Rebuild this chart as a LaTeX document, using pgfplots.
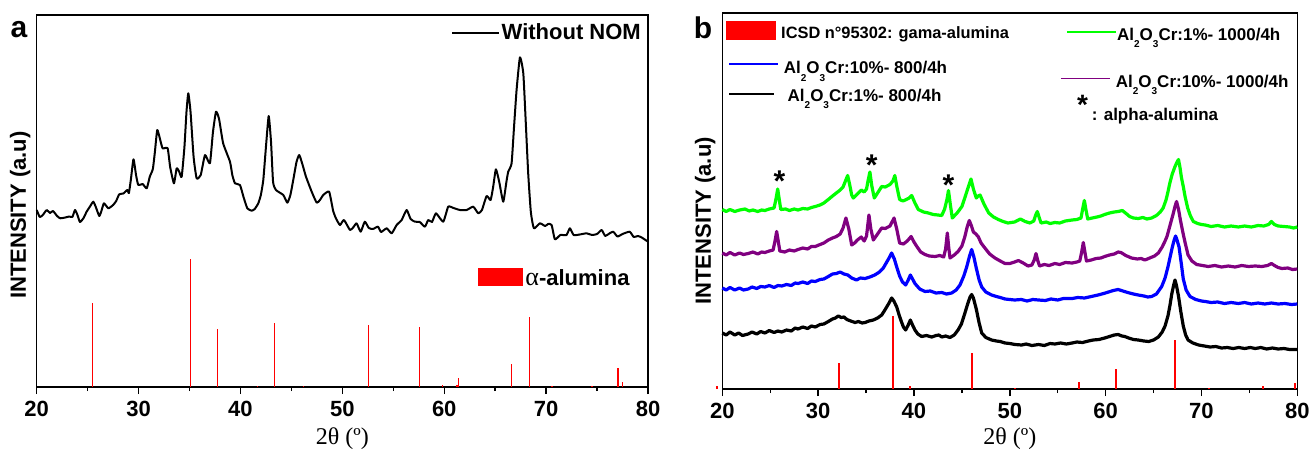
\documentclass[border=0pt]{standalone}
\usepackage{fontspec}
\setmainfont{Liberation Sans}
\newfontfamily\serif{Liberation Serif}
\usepackage{pgfplots}
\pgfplotsset{compat=1.18}
\definecolor{cgreen}{HTML}{00FF00}
\definecolor{cpurple}{HTML}{800080}
\newcommand\sub[1]{\raisebox{-3.6pt}{\fontsize{5}{5}\selectfont #1}}
\newcommand\alo{Al\sub{2}O\sub{3}}

\pgfplotsset{xrd/.style={
  scale only axis, anchor=south west, clip=false,
  xmin=20, xmax=80, ymin=0,
  xtick={20,30,...,80}, minor x tick num=1, ytick=\empty,
  xtick pos=left, tick align=outside,
  major tick length=3.5pt, minor tick length=2pt,
  every tick/.style={black, line width=0.7pt},
  axis line style={line width=0.6pt},
  ticklabel style={font=\fontsize{11}{12}\selectfont\bfseries},
  /pgf/number format/assume math mode=true,
  xlabel={\serif 2θ (º)},
  xlabel style={font=\fontsize{12}{12}\selectfont, anchor=center},
  ylabel={INTENSITY (a.u)},
  ylabel style={font=\fontsize{11}{12}\selectfont\bfseries, anchor=center, rotate=0},
}}

\begin{document}
\begin{tikzpicture}
\useasboundingbox (0,0) rectangle (654.5pt,225pt);

% ---------- panel a ----------
\begin{axis}[xrd, at={(18.35pt,31.5pt)}, width=305.65pt, height=186pt, ymax=372,
  xlabel style={at={(axis description cs:0.5,-0.138)}},
  ylabel style={at={(axis description cs:-0.027,0.462)}}]
\addplot[black, line width=1pt, line join=round, smooth, tension=0.3] coordinates {
(20.0,177) (20.3,170) (20.6,172) (20.98,177) (21.3,174) (21.6,176) (22.0,171) (22.3,168.7)
(22.8,169.5) (23.2,170.5) (23.5,170) (23.76,177) (24.0,172) (24.25,165) (24.6,169) (24.9,175.3)
(25.2,180) (25.55,185.3) (25.8,180) (26.14,171) (26.35,176) (26.6,183.7) (27.03,178.7) (27.5,182)
(27.8,186) (28.1,192.7) (28.5,193.5) (28.9,197) (29.05,194) (29.25,208) (29.5,227.7) (29.75,212)
(29.97,202) (30.4,203) (30.8,198.7) (31.1,210.3) (31.4,218) (31.6,235) (31.83,257) (32.1,248)
(32.36,238.7) (32.85,238.7) (33.1,220) (33.47,203.7) (33.74,218.7) (34.0,215) (34.23,210.3)
(34.5,240) (34.7,275) (34.88,293.7) (35.1,275) (35.4,230) (35.7,208.7) (36.1,212) (36.52,232)
(37.0,223.7) (37.3,255) (37.6,275.3) (37.9,268) (38.3,243.7) (38.97,225.3) (39.2,212) (39.46,203.7)
(39.95,202) (40.3,190) (40.67,178.7) (41.1,176.3) (41.4,178) (41.75,183.7) (42.0,192) (42.24,207)
(42.5,240) (42.77,271) (43.0,245) (43.2,205) (43.48,197) (44.2,192) (44.6,184.3) (44.9,192)
(45.18,207) (45.5,225) (45.77,232) (46.1,222) (46.43,210.3) (46.99,195.3) (47.48,184.3) (47.8,187)
(48.13,192) (48.7,195.3) (49.1,176) (49.4,168) (49.77,162) (50.16,167) (50.75,157) (51.1,160)
(51.4,163.7) (51.8,155.3) (52.2,165.3) (52.6,159) (53.0,158) (53.5,160.3) (53.8,155) (54.35,158.7)
(54.84,153.7) (55.33,162) (55.82,167) (56.31,177) (56.7,168) (57.12,165.3) (57.6,165) (58.1,160.3)
(58.43,167) (58.8,165) (59.19,173.7) (59.9,165.3) (60.39,180.3) (60.9,179) (61.54,177) (62.2,177)
(62.85,180.3) (63.34,173.7) (63.7,177) (64.16,191) (64.55,187) (64.8,200) (65.07,217.7) (65.4,205)
(65.79,185.3) (66.1,205) (66.28,215.3) (66.61,223.7) (66.85,260) (67.1,297) (67.43,329.7)
(67.76,313.7) (68.0,265) (68.24,213.7) (68.5,175) (68.8,158.7) (69.39,163.7) (69.9,161) (70.2,163)
(70.54,162) (70.86,147.7) (71.4,152) (72.0,152) (72.33,158.7) (72.7,152) (73.3,152.5) (73.97,153.7)
(74.5,152) (75.0,153) (75.45,157) (75.8,151) (76.2,153.5) (76.59,155.3) (77.0,150.5) (77.5,153)
(78.2,155.3) (78.6,150) (79.0,151) (79.35,149.7) (80.0,145.3)};
\addplot[ycomb, red, line width=0.6pt, no markers] coordinates {
(25.46,84) (35.1,128) (37.75,58.3) (41.68,1) (43.34,64.3) (46.2,1.5) (52.6,62.3) (57.57,60.3)
(59.8,2) (61.25,2.5) (61.38,9) (66.64,23.3) (68.33,70) (70.57,1) (74.5,1) (77.06,19) (77.48,5.3)};
% legend
\draw[black, line width=1pt] (rel axis cs:0.6795,0.9516) -- (rel axis cs:0.7563,0.9516);
\node[anchor=base west, inner sep=0pt, font=\fontsize{11}{12}\selectfont\bfseries]
  at (rel axis cs:0.760,0.9328) {Without NOM};
\fill[red] (rel axis cs:0.722,0.2715) rectangle (rel axis cs:0.7955,0.3199);
\node[anchor=base west, inner sep=0pt, font=\fontsize{11}{12}\selectfont\bfseries]
  at (rel axis cs:0.7988,0.274) {{\serif\mdseries\fontsize{13}{13}\selectfont α}-alumina};
\end{axis}

% ---------- panel b ----------
\begin{axis}[xrd, at={(361.15pt,30.5pt)}, width=287.5pt, height=188pt, ymax=376,
  xlabel style={at={(axis description cs:0.5,-0.132)}},
  ylabel style={at={(axis description cs:-0.030,0.447)}}]
\addplot[ycomb, red, line width=1pt, no markers] coordinates {
(19.46,3) (32.14,26.3) (37.86,73.3) (39.6,3) (46.08,36.3) (50.5,1) (57.26,7.3) (61.11,20)
(67.2,49) (70.76,1) (76.43,2.7) (79.76,5.7)};
\addplot[black, line width=1.6pt, line join=round] coordinates {
(20.0,56) (20.4,54) (20.8,57) (21.3,54) (21.7,56) (22.1,53.5) (22.7,55) (23.1,57) (23.6,55)
(24.0,57.5) (24.45,56) (24.9,58.5) (25.4,56.5) (25.8,58) (26.2,57) (26.7,59) (27.2,58) (27.6,61)
(27.9,60) (28.4,62) (28.9,60.5) (29.3,63) (29.7,62) (30.2,64.5) (30.6,65) (31.06,67.5) (31.5,70)
(31.8,71) (32.1,73) (32.4,71.5) (32.7,72) (33.0,69.5) (33.4,68) (33.85,66.5) (34.2,67.5) (34.6,66)
(34.9,66.5) (35.3,68) (35.76,69) (36.2,71) (36.63,74) (36.9,78) (37.15,82) (37.4,86) (37.67,91)
(37.9,88) (38.2,82) (38.45,74) (38.7,67) (38.9,62) (39.13,59) (39.4,64) (39.62,69) (39.85,64)
(40.1,59) (40.4,55) (40.8,52.5) (41.3,53.5) (41.85,52) (42.3,53.5) (42.6,54) (42.9,52) (43.3,53)
(43.76,51.5) (44.2,54) (44.6,59) (44.95,65) (45.3,75.5) (45.6,85) (45.85,92) (46.02,94.5) (46.2,91)
(46.5,80) (46.8,66) (47.07,56) (47.5,51.5) (48.1,49) (48.6,48) (49.0,47.5) (49.5,46) (50.0,45.5)
(50.54,44.5) (51.24,44) (51.7,45) (52.3,43.5) (53.0,44.5) (53.6,43.5) (54.2,45.5) (54.7,45)
(55.3,46) (55.9,45) (56.5,46) (57.0,47) (57.6,46.5) (58.2,48) (58.7,49) (59.3,49.5) (59.9,51)
(60.4,52.5) (60.9,54) (61.3,54.5) (61.7,53) (62.0,52.5) (62.4,51) (62.9,49.5) (63.4,49) (64.0,48)
(64.5,47.5) (65.0,49) (65.5,52) (65.9,57) (66.2,63) (66.5,73) (66.7,83) (66.9,95) (67.1,104)
(67.24,109) (67.4,103) (67.6,93) (67.85,77) (68.1,63) (68.35,54) (68.6,49) (69.1,46) (69.7,44)
(70.3,43) (70.9,42) (71.5,42.5) (72.1,41) (72.7,41.5) (73.3,40.5) (73.9,41.5) (74.5,40.5)
(75.1,41.5) (75.6,40.5) (76.2,41.5) (76.8,40) (77.4,41) (78.0,40) (78.6,40.5) (79.2,39.5) (80.0,39.5)};
\addplot[blue, line width=1.6pt, line join=round] coordinates {
(20.0,101) (20.4,99) (20.8,101.5) (21.3,99) (21.8,101) (22.2,99) (22.7,100) (23.1,102) (23.6,100.5)
(24.0,102.5) (24.45,102) (24.9,103.5) (25.4,101.5) (25.8,103.5) (26.2,103) (26.7,104.5)
(27.2,103.5) (27.6,106) (27.9,105.5) (28.4,107) (28.9,105.5) (29.3,108) (29.7,107.5) (30.2,109.5)
(30.6,110) (31.06,112.5) (31.5,115) (31.9,115.5) (32.3,117) (32.7,115) (33.1,114) (33.5,111)
(34.0,109) (34.4,111) (34.9,110.5) (35.4,112) (35.9,114) (36.4,117) (36.8,121) (37.1,126)
(37.4,131) (37.67,136) (37.95,130) (38.2,122) (38.5,113) (38.8,107) (39.13,104) (39.4,109)
(39.62,114) (39.85,110) (40.1,105.5) (40.6,100) (41.15,97.5) (41.7,98) (42.3,96) (42.9,96.5)
(43.4,95) (43.93,96) (44.4,99) (44.8,104) (45.2,113) (45.5,122) (45.8,133) (46.02,139.5)
(46.25,132) (46.5,121) (46.8,109) (47.07,102) (47.5,97) (48.1,94) (48.6,92.5) (49.0,91.5)
(49.5,90) (50.0,89.5) (50.5,89) (51.2,89.5) (51.8,88) (52.4,89.5) (53.0,89) (53.7,88.5) (54.3,90)
(55.0,89) (55.6,90.5) (56.5,90.5) (57.1,91.5) (57.8,91) (58.5,92.5) (59.2,94) (59.8,95.5)
(60.3,97) (60.8,98.5) (61.3,99.5) (61.8,98) (62.3,96.5) (62.9,95) (63.4,94) (64.0,93) (64.4,92)
(64.8,92.5) (65.3,95) (65.85,102.5) (66.2,111) (66.5,122) (66.75,133) (66.96,142) (67.15,149)
(67.3,153) (67.45,149) (67.66,142) (67.9,125) (68.1,110) (68.4,99) (68.8,92.5) (69.4,89.5)
(70.0,88) (70.4,87.5) (71.0,86.5) (71.7,87) (72.4,85.5) (73.1,86.5) (73.85,85.5) (74.5,86.5)
(75.2,85) (75.9,86) (76.6,85) (77.3,86) (78.0,85) (78.7,85.5) (79.4,84.5) (80.0,85)};
\addplot[cpurple, line width=1.6pt, line join=round] coordinates {
(20.0,136) (20.4,134) (20.8,136.5) (21.3,134) (21.8,136) (22.2,134.5) (22.7,135.5) (23.2,137)
(23.7,135) (24.1,137) (24.45,136.5) (24.9,138) (25.3,139) (25.5,148) (25.67,157.5) (25.85,147)
(26.0,138) (26.5,137) (27.0,139) (27.5,138) (27.9,139.5) (28.4,141) (28.9,140) (29.3,142.5)
(29.7,142.5) (30.2,144.5) (30.6,146) (31.06,149) (31.5,151) (31.9,152.5) (32.3,155) (32.6,161)
(32.9,171) (33.2,160) (33.5,144) (33.8,146) (34.1,149) (34.5,152) (34.8,148) (35.05,153)
(35.3,174) (35.5,160) (35.76,149) (36.2,155) (36.63,161) (37.0,160.5) (37.5,163) (37.92,171)
(38.2,160) (38.5,146) (38.9,145) (39.3,148) (39.7,152.5) (40.0,147) (40.3,142.5) (40.7,137)
(41.15,134.5) (41.6,133) (42.2,132.5) (42.7,133.5) (43.1,132) (43.3,140) (43.48,156) (43.62,142)
(43.76,131) (44.2,134) (44.6,137.5) (45.0,143) (45.3,152) (45.55,162) (45.77,168.5) (46.0,163)
(46.2,157) (46.4,155.5) (46.7,152.5) (47.0,146) (47.4,141) (47.9,135) (48.45,131) (49.0,128)
(49.5,125.5) (50.0,125.5) (50.5,127) (50.9,128.5) (51.4,126) (51.9,123) (52.3,124) (52.55,129)
(52.73,135.5) (52.9,129) (53.1,123) (53.6,124.5) (54.1,123.5) (54.7,125.5) (55.2,124.5)
(55.8,126.5) (56.5,126) (57.0,127) (57.3,128) (57.5,137) (57.67,146.5) (57.85,136) (58.0,128)
(58.5,129) (59.0,130.5) (59.5,131) (59.9,132.5) (60.4,134) (60.9,135) (61.3,137) (61.6,136.5)
(62.1,133.5) (62.7,131) (63.3,130) (63.7,130.5) (64.1,129) (64.6,131) (65.1,133) (65.5,136)
(65.9,142) (66.2,148) (66.4,152.5) (66.7,163) (67.07,176) (67.25,183) (67.4,187.5) (67.6,180)
(67.8,169) (68.05,157) (68.3,146) (68.45,140) (68.6,134) (69.0,128) (69.5,124.5) (70.1,123.5)
(70.7,122.5) (71.4,123.5) (72.1,122) (72.8,123) (73.5,122) (74.2,123.5) (74.9,122.5) (75.6,123)
(76.3,122.5) (76.9,123.5) (77.3,125.5) (77.7,123) (78.0,121.5) (78.4,120.5) (79.0,121)
(79.5,119.5) (80.0,120)};
\addplot[cgreen, line width=1.6pt, line join=round] coordinates {
(20.0,179.5) (20.4,177.5) (20.8,179.5) (21.3,177.5) (21.8,179) (22.37,180) (22.8,178) (23.2,179)
(23.7,177.5) (24.1,179) (24.45,178.5) (24.9,180) (25.4,181) (25.6,190) (25.78,200) (25.95,189)
(26.1,179.5) (26.6,180) (27.0,178.5) (27.5,180) (27.9,179) (28.4,180.5) (28.9,180) (29.3,181.5)
(29.7,182.5) (30.2,184) (30.6,186) (31.06,189.5) (31.5,193) (31.9,196) (32.3,199) (32.6,202)
(32.85,208) (33.08,213.5) (33.3,204) (33.5,194) (33.67,191) (34.0,194) (34.3,197) (34.5,199)
(34.8,197) (35.05,200) (35.2,208) (35.4,217) (35.6,203) (35.86,191) (36.2,196) (36.63,202.5)
(37.0,202) (37.5,204.5) (37.8,208) (38.0,213.5) (38.2,203) (38.5,189.5) (38.85,188) (39.2,189.5)
(39.5,191) (39.76,193.5) (40.1,186) (40.45,179.5) (41.0,177) (41.5,176) (42.0,174.5) (42.5,174)
(42.9,173.5) (43.2,180) (43.45,190) (43.6,198.5) (43.8,184) (44.0,171) (44.5,176) (45.0,182.5)
(45.3,191) (45.6,200) (45.95,210) (46.2,200) (46.5,191) (46.7,193) (46.9,194) (47.3,185)
(47.8,176) (48.3,172) (48.8,169.5) (49.3,167.5) (49.8,166) (50.5,167) (51.1,170) (51.6,167.5)
(52.1,166) (52.5,168) (52.7,174) (52.87,177.5) (53.05,172) (53.26,166) (53.8,167) (54.2,165.5)
(54.7,166.5) (55.2,166) (55.8,168) (56.5,169) (57.0,169.5) (57.43,171) (57.6,180) (57.78,188.5)
(57.95,179) (58.13,170) (58.6,171) (59.1,172) (59.5,173) (59.9,174.5) (60.4,176) (60.9,177)
(61.3,177.5) (61.74,178.5) (62.2,175) (62.5,172.5) (62.9,171) (63.4,170.5) (63.9,171.5) (64.3,170)
(64.8,171) (65.3,173.5) (65.7,177) (66.0,181) (66.3,189) (66.5,197) (66.7,206) (66.95,215)
(67.24,222.5) (67.45,227) (67.6,229.5) (67.75,222) (67.9,212) (68.1,202.5) (68.3,192) (68.56,181)
(68.85,173) (69.15,167.5) (69.6,165.5) (70.0,164.5) (70.4,164) (71.0,162.5) (71.7,163.5)
(72.4,162) (73.1,163) (73.85,162) (74.5,163) (75.2,162) (75.9,163.5) (76.5,163) (77.0,164.5)
(77.3,167.5) (77.6,164.5) (78.0,163) (78.6,162.5) (79.2,162) (79.6,161) (80.0,162)};
% alpha-alumina marks
\node[font=\fontsize{15}{15}\selectfont\bfseries, inner sep=0pt] at (axis cs:25.96,208) {*};
\node[font=\fontsize{15}{15}\selectfont\bfseries, inner sep=0pt] at (axis cs:35.58,224) {*};
\node[font=\fontsize{15}{15}\selectfont\bfseries, inner sep=0pt] at (axis cs:43.6,204) {*};
% legend
\fill[red] (rel axis cs:0.0071,0.928) rectangle (rel axis cs:0.0929,0.9795);
\node[anchor=base west, inner sep=0pt, font=\fontsize{8.2}{9}\selectfont\bfseries]
  at (rel axis cs:0.1017,0.9327) {ICSD n°95302: gama-alumina};
\draw[cgreen, line width=0.8pt] (rel axis cs:0.5995,0.950) -- (rel axis cs:0.6838,0.950);
\node[anchor=base west, inner sep=0pt, font=\fontsize{8.5}{9}\selectfont\bfseries]
  at (rel axis cs:0.686,0.928) {\alo Cr:1\%- 1000/4h};
\draw[blue, line width=0.8pt] (rel axis cs:0.0117,0.8644) -- (rel axis cs:0.0963,0.8644);
\node[anchor=base west, inner sep=0pt, font=\fontsize{8.5}{9}\selectfont\bfseries]
  at (rel axis cs:0.1064,0.8378) {\alo Cr:10\%- 800/4h};
\draw[black, line width=0.8pt] (rel axis cs:0.0117,0.7846) -- (rel axis cs:0.0897,0.7846);
\node[anchor=base west, inner sep=0pt, font=\fontsize{8.5}{9}\selectfont\bfseries]
  at (rel axis cs:0.1130,0.764) {\alo Cr:1\%- 800/4h};
\draw[cpurple, line width=0.8pt] (rel axis cs:0.5890,0.8263) -- (rel axis cs:0.6736,0.8263);
\node[anchor=base west, inner sep=0pt, font=\fontsize{8.5}{9}\selectfont\bfseries]
  at (rel axis cs:0.6838,0.8024) {\alo Cr:10\%- 1000/4h};
\node[font=\fontsize{14}{14}\selectfont\bfseries, inner sep=0pt] at (rel axis cs:0.6264,0.756) {*};
\node[anchor=base west, inner sep=0pt, font=\fontsize{8.5}{9}\selectfont\bfseries]
  at (rel axis cs:0.642,0.715) {: alpha-alumina};
\end{axis}

\node[font=\fontsize{15}{15}\selectfont\bfseries] at (9.5pt,210pt) {a};
\node[font=\fontsize{15}{15}\selectfont\bfseries] at (351.5pt,211pt) {b};
\end{tikzpicture}
\end{document}
